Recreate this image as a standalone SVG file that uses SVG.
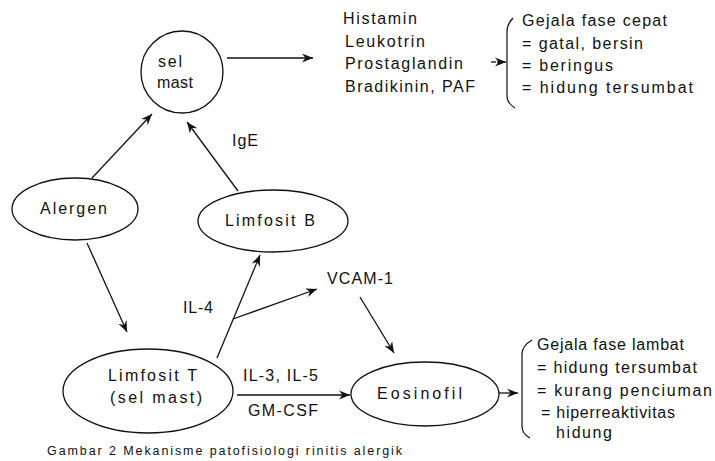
<svg xmlns="http://www.w3.org/2000/svg" width="715" height="461" viewBox="0 0 715 461">
<style>
text{font-family:"Liberation Sans",Arial,sans-serif;font-size:16px;fill:#111}
.cap{font-size:12.5px}
.node{fill:#fff;stroke:#111;stroke-width:1.3}
.edge{fill:none;stroke:#111;stroke-width:1.3}
.br{fill:none;stroke:#111;stroke-width:1.2}
</style>
<defs>
<marker id="ah" markerUnits="userSpaceOnUse" markerWidth="12" markerHeight="10" refX="11" refY="5" orient="auto">
<path d="M0,0.5 L11,5 L0,9.5 L3.5,5 z" fill="#111"/>
</marker>
</defs>
<rect width="715" height="461" fill="#fff"/>
<g id="edges">
<line class="edge" x1="227" y1="58" x2="313" y2="58" marker-end="url(#ah)"/>
<line class="edge" x1="92" y1="178" x2="152" y2="114" marker-end="url(#ah)"/>
<line class="edge" x1="238" y1="191" x2="187" y2="122" marker-end="url(#ah)"/>
<line class="edge" x1="87" y1="243" x2="127" y2="332" marker-end="url(#ah)"/>
<line class="edge" x1="217" y1="358" x2="260" y2="255" marker-end="url(#ah)"/>
<line class="edge" x1="233" y1="319" x2="317" y2="289" marker-end="url(#ah)"/>
<line class="edge" x1="360" y1="297" x2="394" y2="353" marker-end="url(#ah)"/>
<line class="edge" x1="237" y1="395" x2="350" y2="395" marker-end="url(#ah)"/>
<line class="edge" x1="499" y1="393" x2="518" y2="393" marker-end="url(#ah)"/>
<line class="edge" x1="491" y1="62" x2="496" y2="62"/>
<line class="edge" x1="497" y1="62" x2="506" y2="62" marker-end="url(#ah)"/>
</g>
<g id="selmast">
<circle class="node" cx="182" cy="72" r="41"/>
<text x="158" y="67" textLength="24" lengthAdjust="spacing">sel</text>
<text x="157" y="88" textLength="36" lengthAdjust="spacing">mast</text>
</g>
<g id="mediators">
<text x="343" y="24" textLength="74" lengthAdjust="spacing">Histamin</text>
<text x="345" y="47" textLength="80" lengthAdjust="spacing">Leukotrin</text>
<text x="345" y="69" textLength="118" lengthAdjust="spacing">Prostaglandin</text>
<text x="345" y="92" textLength="130" lengthAdjust="spacing">Bradikinin, PAF</text>
</g>
<g id="fase-cepat">
<path class="br" d="M513,18 Q507,24 507,32 L507,96 Q507,103 515,108"/>
<text x="522" y="26" textLength="145" lengthAdjust="spacing">Gejala fase cepat</text>
<text x="522" y="49" textLength="121" lengthAdjust="spacing">= gatal, bersin</text>
<text x="522" y="71" textLength="91" lengthAdjust="spacing">= beringus</text>
<text x="522" y="93" textLength="171" lengthAdjust="spacing">= hidung tersumbat</text>
</g>
<g id="alergen">
<ellipse class="node" cx="75" cy="209" rx="63" ry="31"/>
<text x="40" y="214" textLength="67" lengthAdjust="spacing">Alergen</text>
</g>
<g id="limfositB">
<ellipse class="node" cx="273" cy="221" rx="75" ry="31"/>
<text x="225" y="226" textLength="90" lengthAdjust="spacing">Limfosit B</text>
</g>
<g id="label-ige"><text x="232" y="146" textLength="26" lengthAdjust="spacing">IgE</text></g>
<g id="label-il4"><text x="183" y="313" textLength="30" lengthAdjust="spacing">IL-4</text></g>
<g id="vcam"><text x="327" y="284" textLength="66" lengthAdjust="spacing">VCAM-1</text></g>
<g id="limfositT">
<ellipse class="node" cx="148" cy="391" rx="85" ry="42"/>
<text x="108" y="381" textLength="89" lengthAdjust="spacing">Limfosit T</text>
<text x="110" y="403" textLength="92" lengthAdjust="spacing">(sel mast)</text>
</g>
<g id="label-il35">
<text x="243" y="381" textLength="75" lengthAdjust="spacing">IL-3, IL-5</text>
<text x="248" y="416" textLength="70" lengthAdjust="spacing">GM-CSF</text>
</g>
<g id="eosinofil">
<ellipse class="node" cx="425" cy="394" rx="74" ry="32"/>
<text x="377" y="399" textLength="85" lengthAdjust="spacing">Eosinofil</text>
</g>
<g id="fase-lambat">
<path class="br" d="M532,340 Q522,346 522,354 L522,426 Q522,434 530,438"/>
<text x="537" y="350" textLength="147" lengthAdjust="spacing">Gejala fase lambat</text>
<text x="537" y="373" textLength="160" lengthAdjust="spacing">= hidung tersumbat</text>
<text x="537" y="396" textLength="175" lengthAdjust="spacing">= kurang penciuman</text>
<text x="541" y="418" textLength="134" lengthAdjust="spacing">= hiperreaktivitas</text>
<text x="556" y="438" textLength="56" lengthAdjust="spacing">hidung</text>
</g>
<g id="caption">
<text class="cap" x="47" y="455" textLength="355" lengthAdjust="spacing">Gambar 2  Mekanisme patofisiologi rinitis alergik</text>
</g>
</svg>
